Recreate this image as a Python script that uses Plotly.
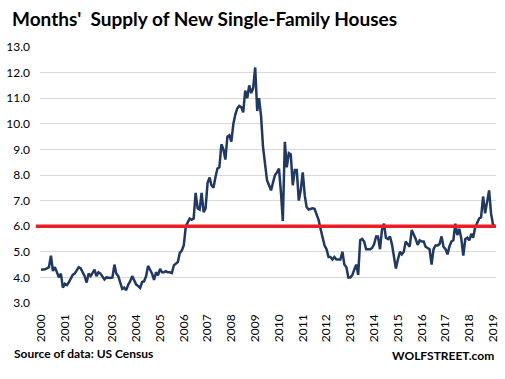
import pandas as pd
import plotly.graph_objects as go

# Months' supply of new single-family houses, monthly, Jan 2000 - Feb 2019
supply_2000 = [4.3, 4.3, 4.32, 4.35, 4.4, 4.85, 4.25, 4.4, 4.15, 4.0, 4.15, 3.6]
supply_2001 = [3.75, 3.7, 3.8, 3.95, 4.1, 4.15, 4.3, 4.4, 4.35, 4.2, 4.05, 3.8]
supply_2002 = [4.15, 4.05, 4.2, 4.3, 4.05, 4.2, 4.15, 4.05, 3.92, 4.0, 3.98, 3.98]
supply_2003 = [4.0, 4.5, 4.15, 4.05, 3.8, 3.55, 3.6, 3.5, 3.72, 3.85, 4.05, 3.9]
supply_2004 = [3.72, 3.66, 3.59, 3.82, 3.85, 4.05, 4.45, 4.3, 4.14, 3.9, 4.2, 4.08]
supply_2005 = [4.33, 4.2, 4.2, 4.24, 4.2, 4.2, 4.17, 4.47, 4.55, 4.6, 4.96, 5.05]
supply_2006 = [5.26, 6.0, 6.14, 6.3, 6.25, 6.3, 7.3, 6.7, 6.65, 7.3, 6.55, 6.7]
supply_2007 = [7.7, 7.9, 7.6, 7.5, 7.9, 8.25, 8.3, 9.2, 9.0, 8.6, 9.5, 9.55]
supply_2008 = [9.3, 10.0, 10.35, 10.6, 10.7, 10.65, 10.45, 11.3, 11.0, 11.5, 11.2, 11.4]
supply_2009 = [12.2, 10.5, 11.0, 10.3, 9.1, 8.4, 7.8, 7.6, 7.4, 7.7, 8.0, 8.1]
supply_2010 = [8.25, 7.3, 6.2, 9.3, 8.3, 8.85, 8.8, 7.6, 8.2, 8.2, 7.0, 7.4]
supply_2011 = [8.1, 7.2, 6.75, 6.65, 6.68, 6.7, 6.68, 6.5, 6.25, 5.9, 5.5, 5.25]
supply_2012 = [5.1, 4.8, 4.8, 4.7, 4.8, 4.7, 4.7, 4.7, 5.0, 4.5, 4.4, 4.0]
supply_2013 = [4.0, 4.1, 4.3, 4.5, 4.1, 5.45, 5.5, 5.4, 5.1, 5.1, 5.1, 5.15]
supply_2014 = [5.3, 5.6, 5.6, 5.1, 5.85, 6.1, 5.55, 5.5, 5.6, 5.3, 4.75, 4.35]
supply_2015 = [4.7, 5.0, 4.9, 5.0, 5.4, 5.3, 5.2, 5.85, 5.7, 5.5, 5.27, 5.45]
supply_2016 = [5.4, 5.4, 5.2, 5.15, 5.1, 4.5, 5.1, 5.25, 5.25, 5.3, 5.6, 5.2]
supply_2017 = [5.1, 4.9, 5.2, 5.4, 5.45, 6.1, 5.65, 5.9, 5.5, 4.85, 5.5, 5.55]
supply_2018 = [5.45, 5.7, 5.55, 5.95, 6.15, 6.3, 6.35, 7.16, 6.5, 7.0, 7.4, 6.5]
supply_2019 = [6.05, 6.0]

threshold = 6.0
years = list(range(2000, 2020))
year_labels = [str(y) for y in years]

supply = (supply_2000 + supply_2001 + supply_2002 + supply_2003 + supply_2004 +
          supply_2005 + supply_2006 + supply_2007 + supply_2008 + supply_2009 +
          supply_2010 + supply_2011 + supply_2012 + supply_2013 + supply_2014 +
          supply_2015 + supply_2016 + supply_2017 + supply_2018 + supply_2019)
dates = pd.date_range("2000-01-01", periods=len(supply), freq="MS")

fig = go.Figure()
fig.add_trace(go.Scatter(
    x=dates, y=supply, mode="lines",
    line=dict(color="#203864", width=2.5),
    hoverinfo="x+y", showlegend=False,
))

fig.add_shape(type="line", xref="paper", yref="y",
              x0=-0.009, x1=1.0, y0=threshold, y1=threshold,
              line=dict(color="#EE1C25", width=3.5), layer="above")

font_family = "Lato, 'Open Sans', sans-serif"

fig.update_layout(
    width=505, height=379,
    margin=dict(l=40, r=5, t=47, b=76),
    paper_bgcolor="white", plot_bgcolor="white",
    font=dict(family=font_family, color="#000000", size=12),
    title=dict(text="<b>Months'  Supply of New Single-Family Houses</b>",
               x=12 / 505, xanchor="left", y=1 - 19 / 379, yanchor="middle",
               font=dict(family=font_family, size=19, color="#000000")),
    xaxis=dict(
        type="date",
        range=["1999-12-16", "2019-02-15"],
        tickvals=[f"{y}-01-01" for y in years],
        ticktext=year_labels,
        tickangle=-90,
        showgrid=False, zeroline=False, showline=False,
        ticks="", ticklabelstandoff=8,
        tickfont=dict(size=12, color="#000000"),
    ),
    yaxis=dict(
        range=[3, 13], dtick=1, tick0=3, tickformat=".1f",
        showgrid=True, gridcolor="#D9D9D9", gridwidth=1,
        zeroline=False, showline=False, ticks="",
        ticklabelstandoff=9,
        tickfont=dict(size=12, color="#000000"),
    ),
    annotations=[
        dict(text="<b>Source of data: US Census</b>", xref="paper", yref="paper",
             x=-28 / 460, xanchor="left", y=-50 / 256, yanchor="middle",
             showarrow=False, font=dict(size=12, family=font_family, color="#000000")),
        dict(text="<b>WOLFSTREET.com</b>", xref="paper", yref="paper",
             x=1.0, xanchor="right", y=-52 / 256, yanchor="middle",
             showarrow=False, font=dict(size=12, family=font_family, color="#000000")),
    ],
)

fig.write_html("out.html",
               config={"displayModeBar": False},
               post_script="document.body.style.margin='0';document.body.style.padding='0';")
